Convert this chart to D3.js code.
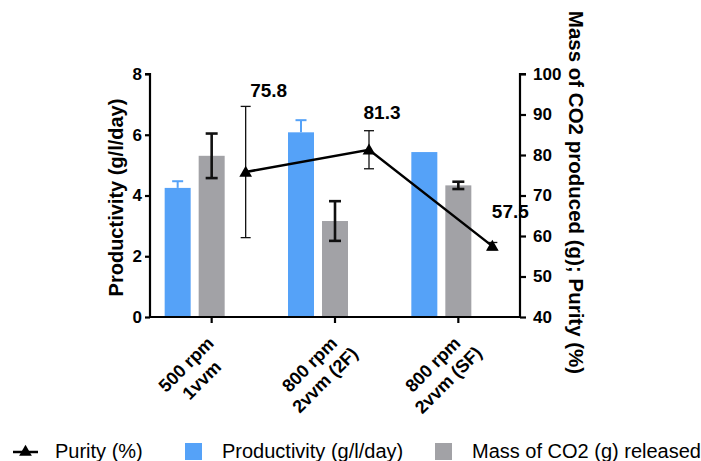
<!DOCTYPE html>
<html>
<head>
<meta charset="utf-8">
<script src="https://cdn.jsdelivr.net/npm/d3@7"></script>
<style>
  body { margin: 0; background: #fff; }
  svg { display: block; font-family: "Liberation Sans", Arial, sans-serif; }
</style>
</head>
<body>
<svg id="chart" width="701" height="461"></svg>
<script>
// data
const categories = [["500 rpm", "1vvm"], ["800 rpm", "2vvm (2F)"], ["800 rpm", "2vvm (SF)"]];
const productivity = [4.25, 6.08, 5.43];
const productivityErr = [0.22, 0.4, 0];
const massCO2 = [79.8, 63.7, 72.5];
const massCO2Err = [5.5, 4.9, 0.9];
const purity = [75.8, 81.3, 57.5];
const purityErr = [16.2, 4.7, 0.9];
const leftTicks = [0, 2, 4, 6, 8];
const rightTicks = [40, 50, 60, 70, 80, 90, 100];

const blue = "#55a2f8";
const gray = "#a2a2a6";

const svg = d3.select("#chart");
const plotL = 150, plotR = 520, plotT = 74, plotB = 317;

const x = d3.scaleBand().domain(d3.range(categories.length)).range([plotL, plotR]);
const slot = d3.scalePoint().domain(["prod", "mass", "purity"]).range([-34, 34]);
const yL = d3.scaleLinear().domain([0, 8]).range([plotB, plotT]);
const yR = d3.scaleLinear().domain([40, 100]).range([plotB, plotT]);
const cx = (i) => x(i) + x.bandwidth() / 2;
const barW = 26;

// bars
svg.append("g").selectAll("rect")
  .data(productivity)
  .join("rect")
  .attr("x", (d, i) => cx(i) + slot("prod") - barW / 2)
  .attr("y", (d) => yL(d))
  .attr("width", barW)
  .attr("height", (d) => yL(0) - yL(d))
  .attr("fill", blue);

svg.append("g").selectAll("rect")
  .data(massCO2)
  .join("rect")
  .attr("x", (d, i) => cx(i) + slot("mass") - barW / 2)
  .attr("y", (d) => yR(d))
  .attr("width", barW)
  .attr("height", (d) => yR(40) - yR(d))
  .attr("fill", gray);

// error bars
function errorBars(vals, errs, scale, key, color, width, cap, upOnly) {
  const g = svg.append("g").attr("stroke", color).attr("stroke-width", width);
  vals.forEach((v, i) => {
    if (!errs[i]) return;
    const xx = cx(i) + slot(key);
    const y1 = scale(v + errs[i]);
    const y0 = upOnly ? scale(v) : scale(v - errs[i]);
    g.append("line").attr("x1", xx).attr("x2", xx).attr("y1", y0).attr("y2", y1);
    g.append("line").attr("x1", xx - cap / 2).attr("x2", xx + cap / 2).attr("y1", y1).attr("y2", y1);
    if (!upOnly)
      g.append("line").attr("x1", xx - cap / 2).attr("x2", xx + cap / 2).attr("y1", y0).attr("y2", y0);
  });
}
errorBars(productivity, productivityErr, yL, "prod", blue, 2, 11, true);
errorBars(massCO2, massCO2Err, yR, "mass", "#111", 2.6, 12, false);
errorBars(purity, purityErr, yR, "purity", "#111", 1.3, 10, false);

// purity line
const line = d3.line()
  .x((d, i) => cx(i) + slot("purity"))
  .y((d) => yR(d));
svg.append("path")
  .datum(purity)
  .attr("d", line)
  .attr("fill", "none")
  .attr("stroke", "#000")
  .attr("stroke-width", 2.5);

const tri = d3.symbol().type(d3.symbolTriangle).size(70);
svg.append("g").selectAll("path")
  .data(purity)
  .join("path")
  .attr("d", tri)
  .attr("transform", (d, i) => `translate(${cx(i) + slot("purity")},${yR(d) + 1})`)
  .attr("fill", "#000");

// value labels
const labelDx = [23, 13, 18];
const labelDy = [-75, -31, -28];
svg.append("g").selectAll("text")
  .data(purity)
  .join("text")
  .attr("x", (d, i) => cx(i) + slot("purity") + labelDx[i])
  .attr("y", (d, i) => yR(d) + labelDy[i])
  .attr("text-anchor", "middle")
  .attr("font-size", 19)
  .attr("font-weight", "bold")
  .text((d) => d.toFixed(1));

// axes
const axisL = svg.append("g")
  .attr("transform", `translate(${plotL},0)`)
  .call(d3.axisLeft(yL).tickValues(leftTicks).tickSize(5).tickPadding(3));
const axisR = svg.append("g")
  .attr("transform", `translate(${plotR},0)`)
  .call(d3.axisRight(yR).tickValues(rightTicks).tickSize(6).tickPadding(7));
const axisB = svg.append("g")
  .attr("transform", `translate(0,${plotB})`)
  .call(d3.axisBottom(x).tickSize(6).tickFormat(""));

[axisL, axisR, axisB].forEach((a) => {
  a.select(".domain").attr("stroke-width", 2.2).attr("stroke", "#000");
  a.selectAll(".tick line").attr("stroke-width", 2.2).attr("stroke", "#000");
  a.selectAll("text")
    .attr("font-size", 17)
    .attr("font-weight", "bold")
    .attr("font-family", "Liberation Sans, Arial, sans-serif")
    .attr("fill", "#000");
});
axisL.select(".domain").attr("d", `M-5,${plotT}H0V${plotB}`);
axisR.select(".domain").attr("d", `M6,${plotT}H0V${plotB}`);
axisB.select(".domain").attr("d", `M${plotL},0H${plotR}`);

// x labels
const xl = svg.append("g").selectAll("text")
  .data(categories)
  .join("text")
  .attr("transform", (d, i) => `translate(${cx(i)},325) rotate(-45)`)
  .attr("text-anchor", "middle")
  .attr("font-size", 18)
  .attr("font-weight", "bold");
xl.selectAll("tspan")
  .data((d) => d)
  .join("tspan")
  .attr("x", -46)
  .attr("y", (d, j) => 16 + j * 22)
  .text((d) => d);

// axis titles
svg.append("text")
  .attr("transform", `translate(123,${(plotT + plotB) / 2 + 2}) rotate(-90)`)
  .attr("text-anchor", "middle")
  .attr("font-size", 20)
  .attr("font-weight", "bold")
  .text("Productivity (g/l/day)");
svg.append("text")
  .attr("transform", `translate(569,${(plotT + plotB) / 2 - 3}) rotate(90)`)
  .attr("text-anchor", "middle")
  .attr("font-size", 20.5)
  .attr("font-weight", "bold")
  .text("Mass of CO2 produced (g); Purity (%)");

// legend
const leg = svg.append("g").attr("font-size", 20);
leg.append("line").attr("x1", 13).attr("x2", 38).attr("y1", 452).attr("y2", 452)
  .attr("stroke", "#000").attr("stroke-width", 2.5);
leg.append("path").attr("d", tri).attr("transform", "translate(25.5,452)").attr("fill", "#000");
leg.append("text").attr("x", 55).attr("y", 458).text("Purity (%)");
leg.append("rect").attr("x", 185).attr("y", 443).attr("width", 17).attr("height", 17).attr("fill", blue);
leg.append("text").attr("x", 222).attr("y", 458).text("Productivity (g/l/day)");
leg.append("rect").attr("x", 435).attr("y", 443).attr("width", 17).attr("height", 17).attr("fill", gray);
leg.append("text").attr("x", 472).attr("y", 458).text("Mass of CO2 (g) released");
</script>
</body>
</html>
